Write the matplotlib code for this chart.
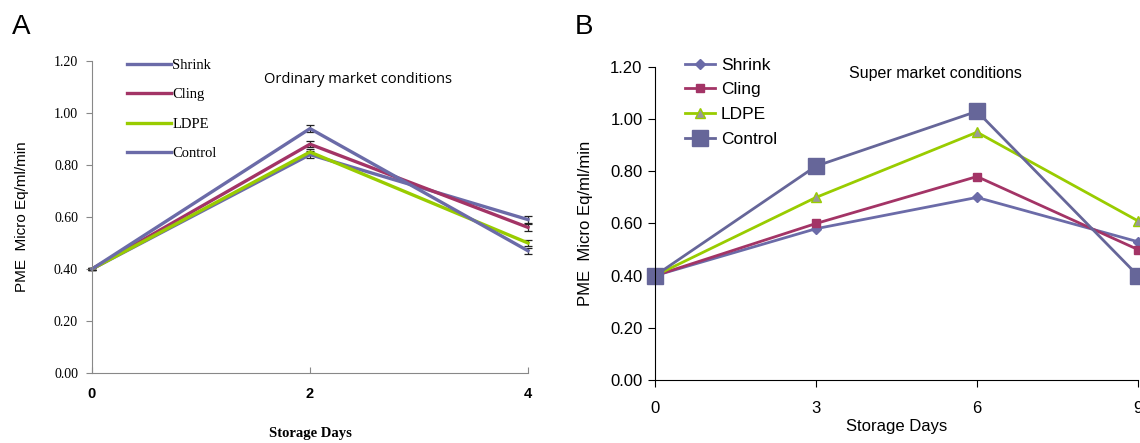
import matplotlib.pyplot as plt
from matplotlib.lines import Line2D

# Panel A - ordinary market conditions
days_a = [0, 2, 4]
shrink_a = [0.40, 0.84, 0.59]
cling_a = [0.40, 0.88, 0.56]
ldpe_a = [0.40, 0.85, 0.50]
control_a = [0.40, 0.94, 0.47]
err_a = [0.005, 0.012, 0.012]

# Panel B - super market conditions
days_b = [0, 3, 6, 9]
shrink_b = [0.40, 0.58, 0.70, 0.53]
cling_b = [0.40, 0.60, 0.78, 0.50]
ldpe_b = [0.40, 0.70, 0.95, 0.61]
control_b = [0.40, 0.82, 1.03, 0.40]

labels = ["Shrink", "Cling", "LDPE", "Control"]
yticks = [0.0, 0.2, 0.4, 0.6, 0.8, 1.0, 1.2]

blue = "#6B6BA8"
red = "#A33466"
green = "#99CC00"

fig = plt.figure(figsize=(11.4, 4.43), dpi=100)

# ---------- A ----------
ax = fig.add_axes([92 / 1140, 70 / 443, 436 / 1140, 312 / 443])
cols_a = [blue, red, green, blue]
for vals, c in zip([shrink_a, cling_a, ldpe_a, control_a], cols_a):
    ax.errorbar(days_a, vals, yerr=err_a, color=c, lw=2.4, ecolor="#222222",
                elinewidth=0.9, capsize=3, capthick=0.9, clip_on=False)
ax.set_xlim(0, 4)
ax.set_ylim(0, 1.2)
ax.set_xticks(days_a)
ax.set_xticklabels([str(d) for d in days_a], fontweight="bold",
                   family="Liberation Sans", fontsize=10.5)
ax.set_yticks(yticks)
ax.set_yticklabels([f"{v:.2f}" for v in yticks], family="Liberation Serif",
                   fontsize=10)
for s in ["right", "top"]:
    ax.spines[s].set_visible(False)
for s in ["left", "bottom"]:
    ax.spines[s].set_color("#888888")
ax.tick_params(axis="y", direction="out", length=4, color="#888888", pad=6)
ax.tick_params(axis="x", direction="in", length=4, color="#888888", pad=10)
ax.set_xlabel("Storage Days", family="Liberation Serif", fontsize=10.5,
              fontweight="bold", labelpad=19)
ax.set_ylabel("PME  Micro Eq/ml/min", family="Liberation Sans", fontsize=11,
              labelpad=18)
ax.text(0.61, 0.94, "Ordinary market conditions", transform=ax.transAxes,
        ha="center", va="center", family="Open Sans", fontsize=10.5)
handles_a = [Line2D([], [], color=c, lw=2.4) for c in cols_a]
ax.legend(handles_a, labels, loc="upper left", bbox_to_anchor=(0.05, 1.05),
          frameon=False, handlelength=3.0, handletextpad=0.1, labelspacing=1.12,
          prop={"family": "Liberation Serif", "size": 10.5})
fig.text(12 / 1140, 1 - 27 / 443, "A", fontsize=20, va="center",
         family="Liberation Sans")

# ---------- B ----------
bx = fig.add_axes([655 / 1140, 63 / 443, 483 / 1140, 313 / 443])
styles = [
    (shrink_b, blue, "D", 5, blue),
    (cling_b, red, "s", 6, red),
    (ldpe_b, green, "^", 7, "#999999"),
    (control_b, "#666699", "s", 11, "#666699"),
]
for (vals, c, m, ms, fc), lab in zip(styles, labels):
    bx.plot(days_b, vals, color=c, lw=2, marker=m, markersize=ms,
            markerfacecolor=fc, markeredgecolor=c, clip_on=False, label=lab)
bx.set_xlim(0, 9)
bx.set_ylim(0, 1.2)
bx.set_xticks(days_b)
bx.set_yticks(yticks)
bx.set_yticklabels([f"{v:.2f}" for v in yticks])
bx.tick_params(labelsize=12, direction="out", length=5, pad=4)
for lab in bx.get_xticklabels() + bx.get_yticklabels():
    lab.set_family("Liberation Sans")
bx.tick_params(axis="x", pad=10)
for s in ["right", "top"]:
    bx.spines[s].set_visible(False)
bx.set_xlabel("Storage Days", family="Liberation Sans", fontsize=12,
              labelpad=2)
bx.set_ylabel("PME  Micro Eq/ml/min", family="Liberation Sans", fontsize=12,
              labelpad=12)
bx.text(0.58, 0.98, "Super market conditions", transform=bx.transAxes,
        ha="center", va="center", family="Liberation Sans", fontsize=11.5)
bx.legend(loc="upper left", bbox_to_anchor=(0.03, 1.08), frameon=False,
          handlelength=1.75, handletextpad=0.3, labelspacing=0.55,
          prop={"family": "Liberation Sans", "size": 12.5})
fig.text(575 / 1140, 1 - 27 / 443, "B", fontsize=20, va="center",
         family="Liberation Sans")

fig.savefig("out.png", dpi=100)
